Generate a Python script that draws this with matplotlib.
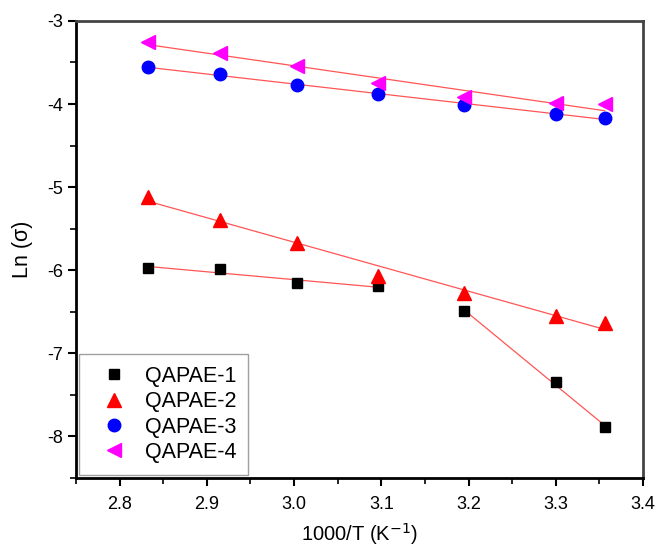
import numpy as np
import matplotlib
matplotlib.use("Agg")
import matplotlib.pyplot as plt
from matplotlib.ticker import MultipleLocator

# 1000/T values (K^-1)
x = [2.833, 2.915, 3.003, 3.096, 3.195, 3.300, 3.356]

qapae1 = [-5.97, -5.99, -6.16, -6.19, -6.49, -7.35, -7.89]
qapae2 = [-5.12, -5.39, -5.67, -6.07, -6.27, -6.55, -6.63]
qapae3 = [-3.56, -3.64, -3.77, -3.88, -4.01, -4.12, -4.17]
qapae4 = [-3.25, -3.39, -3.54, -3.75, -3.92, -3.99, -4.00]

labels = ["QAPAE-1", "QAPAE-2", "QAPAE-3", "QAPAE-4"]

plt.rcParams['font.family'] = ['Liberation Sans', 'DejaVu Sans']

fig = plt.figure(figsize=(6.59, 5.5), dpi=100)
ax = fig.add_axes([0.1153, 0.131, 0.8604, 0.831])

def fitline(xs, ys):
    xs = np.array(xs)
    p = np.polyfit(xs, ys, 1)
    ax.plot(xs[[0, -1]], np.polyval(p, xs[[0, -1]]), color="#ff5555", lw=0.9, zorder=1)

# QAPAE-1 has two linear regions
fitline(x[:4], qapae1[:4])
fitline(x[4:], qapae1[4:])
fitline(x, qapae2)
fitline(x, qapae3)
fitline(x, qapae4)

ax.plot(x, qapae1, "s", color="black", ms=7, ls="none", label=labels[0], zorder=3)
ax.plot(x, qapae2, "^", color="red", ms=10, ls="none", label=labels[1], zorder=3)
ax.plot(x, qapae3, "o", color="blue", ms=9, ls="none", label=labels[2], zorder=3)
ax.plot(x, qapae4, "<", color="magenta", ms=10, ls="none", label=labels[3], zorder=3)

ax.set_xlim(2.75, 3.4)
ax.set_ylim(-8.5, -3)
ax.xaxis.set_major_locator(MultipleLocator(0.1))
ax.xaxis.set_minor_locator(MultipleLocator(0.05))
ax.yaxis.set_major_locator(MultipleLocator(1))
ax.yaxis.set_minor_locator(MultipleLocator(0.5))
ax.xaxis.set_major_formatter(matplotlib.ticker.FormatStrFormatter("%.1f"))
ax.yaxis.set_major_formatter(matplotlib.ticker.FormatStrFormatter("%d"))

ax.tick_params(which="major", direction="out", length=6, width=1.5, labelsize=13, top=False, right=False)
ax.tick_params(axis="x", which="major", pad=7)
ax.tick_params(which="minor", direction="out", length=4, width=1.2, top=False, right=False)

for side in ["left", "bottom", "top", "right"]:
    ax.spines[side].set_linewidth(2)
ax.spines["top"].set_color("#444444")
ax.spines["right"].set_color("#444444")

ax.set_xlabel("1000/T (K$^{-1}$)", fontsize=14.5, labelpad=6)
ax.set_ylabel("Ln (σ)", fontsize=15.5, labelpad=10)

leg = ax.legend(loc="lower left", fontsize=15.5, frameon=True, fancybox=False,
                edgecolor="#888888", borderaxespad=0.15, handletextpad=0.4,
                labelspacing=0.2, borderpad=0.55, handlelength=2.1)
leg.get_frame().set_linewidth(1.0)

fig.savefig("out.png", dpi=100)
